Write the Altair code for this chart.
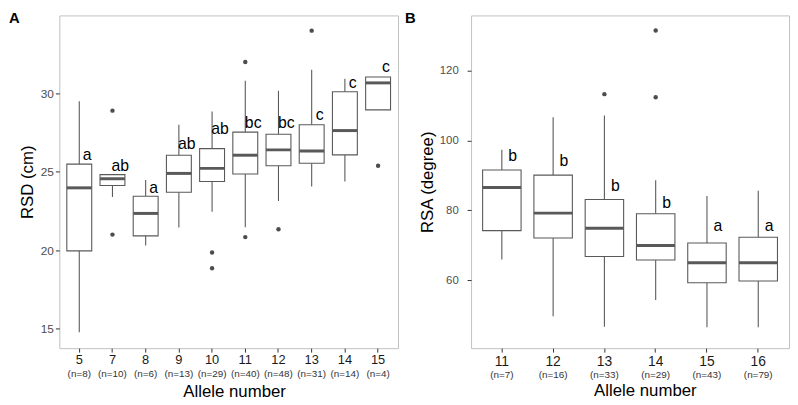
import altair as alt
import pandas as pd

FONT = "Liberation Sans"

# ---------------- Panel A data (RSD, cm) ----------------
a_allele = ["5", "7", "8", "9", "10", "11", "12", "13", "14", "15"]
a_n = [8, 10, 6, 13, 29, 40, 48, 31, 14, 4]
a_low = [14.78, 23.40, 20.30, 21.45, 22.45, 21.47, 23.14, 24.07, 24.38, 28.95]
a_q1 = [19.96, 24.13, 20.92, 23.70, 24.38, 24.86, 25.39, 25.55, 26.08, 28.95]
a_med = [23.98, 24.56, 22.35, 24.90, 25.22, 26.06, 26.40, 26.33, 27.63, 30.67]
a_q3 = [25.49, 24.82, 23.44, 26.06, 26.48, 27.53, 27.40, 28.00, 30.10, 31.05]
a_high = [29.50, 24.82, 24.48, 28.00, 28.85, 30.80, 30.17, 31.50, 30.94, 31.05]
a_out_allele = ["7", "7", "10", "10", "11", "11", "12", "13", "15"]
a_out_value = [28.90, 21.00, 19.86, 18.85, 32.00, 20.84, 21.34, 34.00, 25.39]
a_letters = ["a", "ab", "a", "ab", "ab", "bc", "bc", "c", "c", "c"]
a_letter_y = [26.10, 25.35, 23.96, 26.80, 27.70, 28.10, 28.10, 28.60, 30.67, 31.68]

# ---------------- Panel B data (RSA, degree) ----------------
b_allele = ["11", "12", "13", "14", "15", "16"]
b_n = [7, 16, 33, 29, 43, 79]
b_low = [65.95, 49.70, 46.70, 54.40, 46.60, 46.60]
b_q1 = [74.20, 72.10, 66.80, 65.80, 59.32, 59.80]
b_med = [86.50, 79.20, 74.90, 69.95, 64.99, 65.00]
b_q3 = [91.50, 90.05, 83.10, 79.00, 70.66, 72.28]
b_high = [97.30, 106.60, 107.10, 88.60, 84.10, 85.60]
b_out_allele = ["13", "14", "14"]
b_out_value = [113.20, 131.40, 112.30]
b_letters = ["b", "b", "b", "b", "a", "a"]
b_letter_y = [95.50, 94.10, 87.00, 82.20, 75.40, 75.40]

BOX_COLOR = "#595959"


def panel(tag, cats, n, low, q1, med, q3, high, out_cat, out_val, letters, letter_y,
          ydomain, yticks, ytitle, width, height, tag_dx, letter_dx,
          xlab_size, xlab_pad, n_size, n_offset, ylab_size, ylab_pad, ytitle_pad,
          xtitle_pad, xtitle_x):
    df = pd.DataFrame({
        "allele": cats, "low": low, "q1": q1, "med": med, "q3": q3, "high": high,
        "letter": letters, "ly": letter_y,
        "ntext": ["(n=%d)" % v for v in n],
    })
    odf = pd.DataFrame({"allele": out_cat, "value": out_val})
    tdf = pd.DataFrame({"t": [tag]})
    step = width / (len(cats) + 0.2)

    xscale = alt.Scale(domain=cats, paddingInner=0, paddingOuter=0.1, round=False)
    yscale = alt.Scale(domain=ydomain, nice=False, zero=False)

    xaxis = alt.Axis(labelAngle=0, labelFontSize=xlab_size, labelColor="#1a1a1a",
                     labelPadding=xlab_pad, tickSize=4, tickColor="#333333",
                     domain=False, grid=False, title="Allele number",
                     titleFontSize=17, titleFontWeight="normal", titleColor="#000000",
                     titlePadding=xtitle_pad, titleX=xtitle_x)
    yaxis = alt.Axis(values=yticks, labelFontSize=ylab_size, labelColor="#4d4d4d",
                     labelPadding=ylab_pad, tickSize=4, tickColor="#333333",
                     domain=False, grid=False, title=ytitle, titleFontSize=17,
                     titleFontWeight="normal", titleColor="#000000",
                     titlePadding=ytitle_pad)

    X = alt.X("allele:N", scale=xscale, axis=xaxis, sort=cats)
    Xn = alt.X("allele:N", scale=xscale, sort=cats)

    base = alt.Chart(df)
    upper = base.mark_rule(color=BOX_COLOR, strokeWidth=1.1).encode(
        x=X, y=alt.Y("q3:Q", scale=yscale, axis=yaxis), y2="high:Q")
    lower = base.mark_rule(color=BOX_COLOR, strokeWidth=1.1).encode(
        x=Xn, y=alt.Y("low:Q"), y2="q1:Q")
    box = base.mark_bar(width=alt.RelativeBandSize(0.75), fill="white",
                        stroke=BOX_COLOR, strokeWidth=1.1).encode(
        x=Xn, y=alt.Y("q1:Q"), y2="q3:Q")
    median = base.mark_tick(color=BOX_COLOR, thickness=3, size=step * 0.75,
                            opacity=1).encode(x=Xn, y=alt.Y("med:Q"))
    outliers = alt.Chart(odf).mark_circle(size=20, color="#4d4d4d", opacity=1).encode(
        x=Xn, y=alt.Y("value:Q"))
    letter_marks = base.mark_text(fontSize=16, color="#000000", baseline="middle",
                                  align="center", dx=letter_dx, font=FONT).encode(
        x=Xn, y=alt.Y("ly:Q"), text="letter:N")
    ntext = base.mark_text(fontSize=n_size, color="#333333", baseline="middle",
                           align="center", font=FONT).encode(
        x=Xn, y=alt.value(height + n_offset), text="ntext:N")
    tag_mark = alt.Chart(tdf).mark_text(fontSize=15, fontWeight="bold", color="#000000",
                                        baseline="top", align="left", font=FONT).encode(
        x=alt.value(tag_dx), y=alt.value(-4), text="t:N")

    return alt.layer(upper, lower, box, median, outliers, letter_marks, ntext,
                     tag_mark).properties(width=width, height=height)


pa = panel("A", a_allele, a_n, a_low, a_q1, a_med, a_q3, a_high, a_out_allele,
           a_out_value, a_letters, a_letter_y, [13.76, 34.97], [15, 20, 25, 30],
           "RSD (cm)", 343, 337, -51, 8, 13, 2, 10, 26, 12, 2, 4, 17, 177)
pb = panel("B", b_allele, b_n, b_low, b_q1, b_med, b_q3, b_high, b_out_allele,
           b_out_value, b_letters, b_letter_y, [40.6, 135.7], [60, 80, 100, 120],
           "RSA (degree)", 322, 337, -67, 11, 14, 3, 10, 27, 11.5, 9, 3, 14, 176)

chart = alt.hconcat(pa, pb, spacing=5).properties(padding=0).configure(
    font=FONT
).configure_view(stroke="#c0c0c0", strokeWidth=1)

chart.save("out.html", embed_options={"renderer": "svg", "actions": False})
